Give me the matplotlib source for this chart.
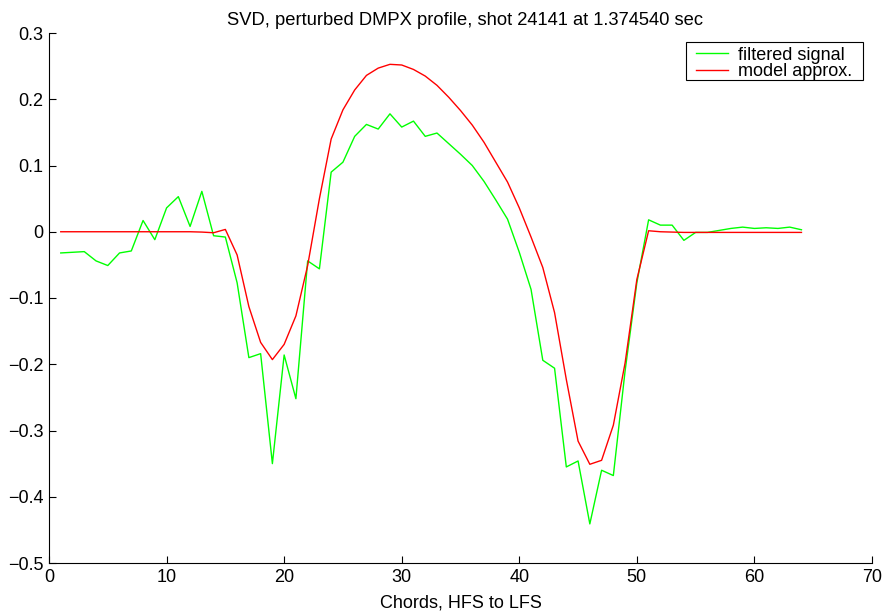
import matplotlib
matplotlib.use("Agg")
import matplotlib.pyplot as plt
from matplotlib.patches import Rectangle
import numpy as np

plt.rcParams['font.family'] = ['Liberation Sans', 'DejaVu Sans']
plt.rcParams['axes.unicode_minus'] = True

chords = list(range(1, 65))
filtered = [-0.032, -0.031, -0.030, -0.044, -0.051, -0.032, -0.029, 0.017, -0.012, 0.036,
            0.053, 0.008, 0.061, -0.006, -0.008, -0.077, -0.190, -0.184, -0.350, -0.186,
            -0.252, -0.044, -0.056, 0.090, 0.105, 0.144, 0.162, 0.155, 0.178, 0.158,
            0.167, 0.144, 0.149, 0.133, 0.117, 0.100, 0.076, 0.048, 0.019, -0.031,
            -0.087, -0.194, -0.206, -0.355, -0.346, -0.441, -0.360, -0.368, -0.210, -0.077,
            0.018, 0.010, 0.010, -0.013, -0.001, -0.001, 0.002, 0.005, 0.007, 0.005,
            0.006, 0.005, 0.007, 0.003]
model = [0.0, 0.0, 0.0, 0.0, 0.0, 0.0, 0.0, 0.0, 0.0, 0.0,
         0.0, 0.0, -0.0005, -0.0015, 0.0035, -0.035, -0.113, -0.167, -0.193, -0.170,
         -0.127, -0.051, 0.050, 0.140, 0.184, 0.214, 0.236, 0.247, 0.2527, 0.2517,
         0.245, 0.235, 0.221, 0.203, 0.183, 0.161, 0.135, 0.105, 0.075, 0.036,
         -0.008, -0.054, -0.122, -0.223, -0.316, -0.351, -0.345, -0.292, -0.198, -0.072,
         0.0015, 0.0, -0.0005, -0.001, -0.001, -0.001, -0.001, -0.001, -0.001, -0.001,
         -0.001, -0.001, -0.001, -0.001]
yticks = [-0.5, -0.4, -0.3, -0.2, -0.1, 0, 0.1, 0.2, 0.3]
yticklabels = ['\u22120.5', '\u22120.4', '\u22120.3', '\u22120.2', '\u22120.1', '0', '0.1', '0.2', '0.3']

W, H = 885, 611
L, R, T, B = 49, 872, 33, 563
fig = plt.figure(figsize=(W/100, H/100), dpi=100)
ax = fig.add_axes([L/W, 1-B/H, (R-L)/W, (B-T)/H])
ax.plot(chords, filtered, color=(0, 1, 0), lw=1.0, label='filtered signal')
ax.plot(chords, model, color=(1, 0, 0), lw=1.0, label='model approx.')
ax.set_xlim(0, 70)
ax.set_ylim(-0.5, 0.3)
ax.set_xticks(np.arange(0, 71, 10))
ax.set_yticks(yticks)
ax.set_yticklabels(yticklabels)
ax.tick_params(direction='in', length=5, labelsize=13, width=0.8, pad=4)
ax.spines['top'].set_visible(False)
ax.spines['right'].set_visible(False)
for s in ['left', 'bottom']:
    ax.spines[s].set_linewidth(0.8)
ax.set_title('SVD, perturbed DMPX profile, shot 24141 at 1.374540 sec',
             fontsize=13.25, pad=6, x=0.5055)
ax.set_xlabel('Chords, HFS to LFS', fontsize=13, labelpad=6.5)

def ax_x(px):
    return (px - L) / (R - L)

def ax_y(py):
    return (B - py) / (B - T)

# legend box frame (pixel layout of the reference)
frame = Rectangle((ax_x(686), ax_y(79.5)), ax_x(863) - ax_x(686), ax_y(42.3) - ax_y(79.5),
                  transform=ax.transAxes, facecolor='white', edgecolor='black',
                  lw=0.8, zorder=4)
ax.add_patch(frame)
leg = ax.legend(loc='upper left', bbox_to_anchor=(ax_x(696), ax_y(46.5)),
                fontsize=13, frameon=False, borderaxespad=0, borderpad=0,
                handlelength=1.75, handletextpad=0.55, labelspacing=0.0)
leg.set_zorder(5)
fig.savefig('out.png', dpi=100)
